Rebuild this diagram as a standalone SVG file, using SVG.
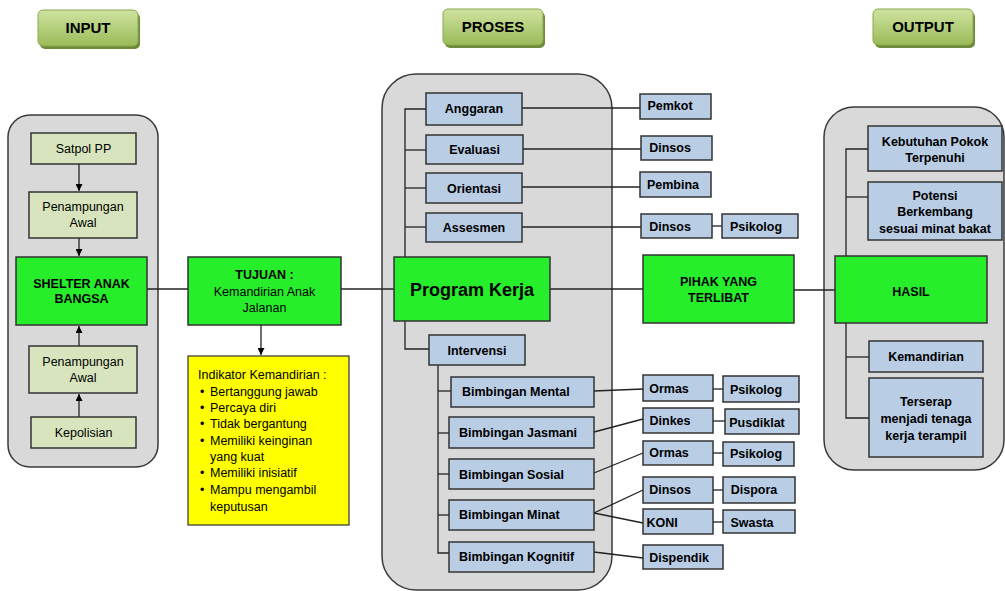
<svg xmlns="http://www.w3.org/2000/svg" width="1005" height="591" viewBox="0 0 1005 591">
<defs>
<linearGradient id="hg" x1="0" y1="0" x2="0" y2="1">
<stop offset="0" stop-color="#cfe3a0"/>
<stop offset="1" stop-color="#9bbb59"/>
</linearGradient>
<marker id="ar" viewBox="0 0 10 10" refX="10" refY="5" markerWidth="7" markerHeight="7" orient="auto" markerUnits="userSpaceOnUse">
<path d="M0,0 L10,5 L0,10 z" fill="#000"/>
</marker>
</defs>
<style>
text{font-family:"Liberation Sans",Arial,sans-serif;fill:#000;}
.hdr{font-family:"Liberation Sans Narrow","Liberation Sans",Arial,sans-serif;font-weight:bold;font-size:15px;text-anchor:middle;}
.cont{fill:#d9d9d9;stroke:#3a3a3a;stroke-width:1.5;}
.lg{fill:#d7e4bd;stroke:#333;stroke-width:1.5;}
.bg{fill:#26ee2a;stroke:#333;stroke-width:1.5;}
.bl{fill:#b9cde5;stroke:#333;stroke-width:1.5;}
.yl{fill:#ffff00;stroke:#333;stroke-width:1.2;}
.t{font-size:12.5px;text-anchor:middle;}
.b{font-size:12.5px;font-weight:bold;text-anchor:middle;}
.bs{font-size:12.5px;font-weight:bold;}
.ln{fill:none;stroke:#222;stroke-width:1.3;}
</style>

<!-- headers -->
<g id="hdr-input"><rect x="40" y="13" width="100" height="36" rx="5" fill="#6f8a3a"/><rect x="38" y="10" width="100" height="36" rx="5" fill="url(#hg)" stroke="#8aa84e"/><text class="hdr" x="88" y="33">INPUT</text></g>
<g id="hdr-proses"><rect x="445" y="12" width="100" height="36" rx="5" fill="#6f8a3a"/><rect x="443" y="9" width="100" height="36" rx="5" fill="url(#hg)" stroke="#8aa84e"/><text class="hdr" x="493" y="32">PROSES</text></g>
<g id="hdr-output"><rect x="875" y="12" width="100" height="36" rx="5" fill="#6f8a3a"/><rect x="873" y="9" width="100" height="36" rx="5" fill="url(#hg)" stroke="#8aa84e"/><text class="hdr" x="923" y="32">OUTPUT</text></g>

<!-- containers -->
<g id="input-container"><rect class="cont" x="8" y="115" width="150" height="352" rx="22"/></g>
<g id="proses-container"><rect class="cont" x="382" y="74" width="230" height="516" rx="34"/></g>
<g id="output-container"><rect class="cont" x="824" y="107" width="180" height="363" rx="30"/></g>

<!-- connectors -->
<g id="connectors">
<line class="ln" x1="79" y1="164" x2="79" y2="191" marker-end="url(#ar)"/>
<line class="ln" x1="79" y1="238" x2="79" y2="256" marker-end="url(#ar)"/>
<line class="ln" x1="79" y1="346" x2="79" y2="326" marker-end="url(#ar)"/>
<line class="ln" x1="79" y1="417" x2="79" y2="394" marker-end="url(#ar)"/>
<line class="ln" x1="147" y1="289" x2="188" y2="289"/>
<line class="ln" x1="341" y1="289" x2="394" y2="289"/>
<line class="ln" x1="261" y1="325" x2="261" y2="355" marker-end="url(#ar)"/>
<line class="ln" x1="550" y1="289" x2="643" y2="289"/>
<line class="ln" x1="794" y1="290" x2="835" y2="290"/>
<!-- proses spine -->
<polyline class="ln" points="426,109 405,109 405,257"/>
<line class="ln" x1="405" y1="150" x2="426" y2="150"/>
<line class="ln" x1="405" y1="188" x2="426" y2="188"/>
<line class="ln" x1="405" y1="227" x2="426" y2="227"/>
<polyline class="ln" points="405,321 405,349 429,349"/>
<polyline class="ln" points="438,364 438,553 451,553"/>
<line class="ln" x1="438" y1="391" x2="451" y2="391"/>
<line class="ln" x1="438" y1="433" x2="449" y2="433"/>
<line class="ln" x1="438" y1="474" x2="449" y2="474"/>
<line class="ln" x1="438" y1="515" x2="449" y2="515"/>
<!-- to agencies -->
<line class="ln" x1="522" y1="108" x2="640" y2="108"/>
<line class="ln" x1="522" y1="149" x2="641" y2="149"/>
<line class="ln" x1="522" y1="187" x2="640" y2="187"/>
<line class="ln" x1="522" y1="227" x2="641" y2="227"/>
<line class="ln" x1="712" y1="226" x2="722" y2="226"/>
<line class="ln" x1="594" y1="391" x2="643" y2="389"/>
<line class="ln" x1="713" y1="389" x2="723" y2="389"/>
<line class="ln" x1="594" y1="432" x2="643" y2="419"/>
<line class="ln" x1="713" y1="421" x2="725" y2="421"/>
<line class="ln" x1="594" y1="473" x2="643" y2="453"/>
<line class="ln" x1="713" y1="453" x2="723" y2="453"/>
<line class="ln" x1="594" y1="513" x2="643" y2="490"/>
<line class="ln" x1="594" y1="513" x2="643" y2="523"/>
<line class="ln" x1="713" y1="490" x2="723" y2="490"/>
<line class="ln" x1="713" y1="522" x2="723" y2="522"/>
<line class="ln" x1="594" y1="552" x2="643" y2="558"/>
<!-- output spine -->
<polyline class="ln" points="868,149 846,149 846,256"/>
<line class="ln" x1="846" y1="197" x2="868" y2="197"/>
<polyline class="ln" points="846,323 846,418 869,418"/>
<line class="ln" x1="846" y1="357" x2="869" y2="357"/>
</g>

<!-- input nodes -->
<g id="satpol"><rect class="lg" x="31" y="133" width="105" height="31"/><text class="t" x="83.5" y="153">Satpol PP</text></g>
<g id="penampungan1"><rect class="lg" x="29" y="192" width="108" height="46"/><text class="t" x="83" y="211">Penampungan</text><text class="t" x="83" y="227">Awal</text></g>
<g id="shelter"><rect class="bg" x="16" y="257" width="131" height="68"/><text class="b" x="81.5" y="288">SHELTER ANAK</text><text class="b" x="81.5" y="303">BANGSA</text></g>
<g id="penampungan2"><rect class="lg" x="29" y="346" width="108" height="47"/><text class="t" x="83" y="366">Penampungan</text><text class="t" x="83" y="382">Awal</text></g>
<g id="kepolisian"><rect class="lg" x="31" y="417" width="105" height="31"/><text class="t" x="83.5" y="437">Kepolisian</text></g>

<!-- tujuan -->
<g id="tujuan"><rect class="bg" x="188" y="257" width="153" height="68"/><text class="b" x="264.5" y="279">TUJUAN :</text><text class="t" x="264.5" y="296">Kemandirian Anak</text><text class="t" x="264.5" y="312">Jalanan</text></g>
<g id="indikator"><rect class="yl" x="188" y="356" width="161" height="169"/>
<text font-size="12.5" x="198" y="379">Indikator Kemandirian :</text>
<g font-size="12.5">
<text x="200" y="396">•</text><text x="210" y="396">Bertanggung jawab</text>
<text x="200" y="412">•</text><text x="210" y="412">Percaya diri</text>
<text x="200" y="428">•</text><text x="210" y="428">Tidak bergantung</text>
<text x="200" y="445">•</text><text x="210" y="445">Memiliki keinginan</text>
<text x="210" y="461">yang kuat</text>
<text x="200" y="477">•</text><text x="210" y="477">Memiliki inisiatif</text>
<text x="200" y="494">•</text><text x="210" y="494">Mampu mengambil</text>
<text x="210" y="511">keputusan</text>
</g></g>

<!-- proses nodes -->
<g id="anggaran"><rect class="bl" x="426" y="93" width="96" height="32"/><text class="b" x="474" y="113">Anggaran</text></g>
<g id="evaluasi"><rect class="bl" x="426" y="135" width="97" height="29"/><text class="b" x="474.5" y="154">Evaluasi</text></g>
<g id="orientasi"><rect class="bl" x="426" y="173" width="96" height="30"/><text class="b" x="474" y="193">Orientasi</text></g>
<g id="assesmen"><rect class="bl" x="426" y="213" width="96" height="29"/><text class="b" x="474" y="232">Assesmen</text></g>
<g id="program-kerja"><rect class="bg" x="394" y="257" width="156" height="64"/><text x="472" y="296" font-size="18" font-weight="bold" text-anchor="middle">Program Kerja</text></g>
<g id="intervensi"><rect class="bl" x="429" y="335" width="96" height="30"/><text class="b" x="477" y="355">Intervensi</text></g>
<g id="b-mental"><rect class="bl" x="451" y="377" width="143" height="30"/><text class="bs" x="462" y="396">Bimbingan Mental</text></g>
<g id="b-jasmani"><rect class="bl" x="449" y="417" width="145" height="31"/><text class="bs" x="459" y="437">Bimbingan Jasmani</text></g>
<g id="b-sosial"><rect class="bl" x="449" y="459" width="145" height="30"/><text class="bs" x="459" y="479">Bimbingan Sosial</text></g>
<g id="b-minat"><rect class="bl" x="449" y="500" width="145" height="30"/><text class="bs" x="459" y="519">Bimbingan Minat</text></g>
<g id="b-kognitif"><rect class="bl" x="449" y="542" width="145" height="30"/><text class="bs" x="459" y="561">Bimbingan Kognitif</text></g>

<!-- agencies -->
<g id="pemkot"><rect class="bl" x="640" y="94" width="71" height="25"/><text class="b" x="670" y="110">Pemkot</text></g>
<g id="dinsos1"><rect class="bl" x="641" y="136" width="71" height="24"/><text class="b" x="670" y="152">Dinsos</text></g>
<g id="pembina"><rect class="bl" x="640" y="172" width="71" height="25"/><text class="b" x="673" y="189">Pembina</text></g>
<g id="dinsos2"><rect class="bl" x="641" y="214" width="71" height="24"/><text class="b" x="670" y="231">Dinsos</text></g>
<g id="psikolog1"><rect class="bl" x="722" y="214" width="76" height="24"/><text class="b" x="756" y="231">Psikolog</text></g>
<g id="ormas1"><rect class="bl" x="643" y="375" width="70" height="26"/><text class="b" x="669" y="393">Ormas</text></g>
<g id="psikolog2"><rect class="bl" x="723" y="376" width="76" height="26"/><text class="b" x="756" y="394">Psikolog</text></g>
<g id="dinkes"><rect class="bl" x="643" y="408" width="70" height="25"/><text class="b" x="670" y="425">Dinkes</text></g>
<g id="pusdiklat"><rect class="bl" x="725" y="409" width="74" height="25"/><text class="b" x="757" y="427">Pusdiklat</text></g>
<g id="ormas2"><rect class="bl" x="643" y="441" width="70" height="24"/><text class="b" x="669" y="457">Ormas</text></g>
<g id="psikolog3"><rect class="bl" x="723" y="442" width="71" height="24"/><text class="b" x="756" y="458">Psikolog</text></g>
<g id="dinsos3"><rect class="bl" x="643" y="477" width="70" height="26"/><text class="b" x="670" y="494">Dinsos</text></g>
<g id="dispora"><rect class="bl" x="723" y="477" width="72" height="26"/><text class="b" x="754" y="494">Dispora</text></g>
<g id="koni"><rect class="bl" x="643" y="509" width="70" height="25"/><text class="b" x="662" y="527">KONI</text></g>
<g id="swasta"><rect class="bl" x="723" y="510" width="72" height="23"/><text class="b" x="752" y="527">Swasta</text></g>
<g id="dispendik"><rect class="bl" x="643" y="545" width="80" height="24"/><text class="b" x="679" y="562">Dispendik</text></g>

<!-- pihak -->
<g id="pihak"><rect class="bg" x="643" y="255" width="151" height="68"/><text class="b" x="718.5" y="286">PIHAK YANG</text><text class="b" x="718.5" y="302">TERLIBAT</text></g>

<!-- output nodes -->
<g id="kebutuhan"><rect class="bl" x="868" y="126" width="134" height="45"/><text class="b" x="935" y="146">Kebutuhan Pokok</text><text class="b" x="935" y="162">Terpenuhi</text></g>
<g id="potensi"><rect class="bl" x="868" y="182" width="134" height="58"/><text class="b" x="935" y="200">Potensi</text><text class="b" x="935" y="216">Berkembang</text><text class="b" x="935" y="233">sesuai minat bakat</text></g>
<g id="hasil"><rect class="bg" x="835" y="256" width="152" height="67"/><text class="b" x="911" y="296">HASIL</text></g>
<g id="kemandirian"><rect class="bl" x="869" y="341" width="114" height="31"/><text class="b" x="926" y="361">Kemandirian</text></g>
<g id="terserap"><rect class="bl" x="869" y="378" width="114" height="79"/><text class="b" x="926" y="406">Terserap</text><text class="b" x="926" y="423">menjadi tenaga</text><text class="b" x="926" y="440">kerja terampil</text></g>
</svg>
